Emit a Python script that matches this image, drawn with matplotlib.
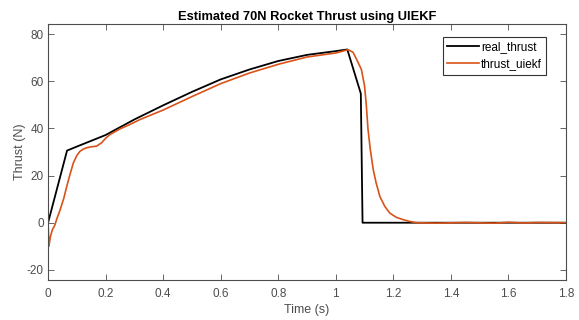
import matplotlib.pyplot as plt

plt.rcParams['font.family'] = ['Liberation Sans', 'DejaVu Sans']
plt.rcParams['axes.unicode_minus'] = False

# real thrust profile (knots of the piecewise curve)
t_real = [0, 0.066, 0.1, 0.2, 0.3, 0.4, 0.5, 0.6, 0.7, 0.8, 0.9, 1.0, 1.04, 1.087, 1.093, 1.8]
v_real = [0, 30.6, 32.3, 37.2, 43.8, 49.8, 55.5, 60.8, 65.0, 68.6, 71.2, 72.8, 73.5, 54.8, 0, 0]

# UIEKF estimate
t_est = [0, 0.003, 0.008, 0.015, 0.024, 0.03, 0.042, 0.055, 0.065, 0.076, 0.088, 0.1,
         0.111, 0.122, 0.134, 0.15, 0.169, 0.186, 0.2, 0.215, 0.25, 0.285, 0.32, 0.4,
         0.5, 0.6, 0.7, 0.8, 0.9, 1.0, 1.043, 1.06, 1.072, 1.089, 1.1, 1.106, 1.112,
         1.12, 1.13, 1.14, 1.153, 1.17, 1.1875, 1.21, 1.234, 1.255, 1.28, 1.35, 1.45,
         1.55, 1.6, 1.65, 1.7, 1.8]
v_est = [0, -10, -6, -3, -0.9, 1.5, 5.5, 10.5, 15.4, 20.4, 25.4, 28.5,
         30.3, 31.2, 31.8, 32.2, 32.5, 33.9, 35.8, 37.4, 39.8, 41.7, 43.8, 47.8,
         53.5, 59.0, 63.5, 67.2, 70.3, 72.0, 73.4, 72.3, 69.4, 65.0, 58.0, 50.0, 39.6,
         31.0, 22.6, 17.0, 11.2, 7.0, 4.1, 2.3, 1.3, 0.6, 0.0, -0.2, 0.1,
         -0.2, 0.2, -0.1, 0.1, 0]

x_ticks = [0, 0.2, 0.4, 0.6, 0.8, 1, 1.2, 1.4, 1.6, 1.8]
x_labels = ['0', '0.2', '0.4', '0.6', '0.8', '1', '1.2', '1.4', '1.6', '1.8']
y_ticks = [-20, 0, 20, 40, 60, 80]

gray = '#4d4d4d'

fig = plt.figure(figsize=(5.79, 3.2), dpi=100)
ax = fig.add_axes([0.083, 0.125, 0.8945, 0.8])

ax.plot(t_real, v_real, color='black', lw=1.3, label='real_thrust')
ax.plot(t_est, v_est, color='#D95319', lw=1.2, label='thrust_uiekf')

ax.set_xlim(0, 1.8)
ax.set_ylim(-24.3, 84.3)
ax.set_xticks(x_ticks)
ax.set_xticklabels(x_labels)
ax.set_yticks(y_ticks)
ax.tick_params(direction='in', top=True, right=True, length=4, width=0.6,
               colors=gray, labelsize=8.5, labelcolor=gray)
ax.tick_params(axis='x', pad=6)
ax.tick_params(axis='y', pad=3)
for s in ax.spines.values():
    s.set_color(gray)
    s.set_linewidth(0.8)

ax.set_xlabel('Time (s)', fontsize=9, color=gray, labelpad=3)
ax.set_ylabel('Thrust (N)', fontsize=9, color=gray, labelpad=1)
ax.set_title('Estimated 70N Rocket Thrust using UIEKF', fontsize=9.3,
             fontweight='bold', pad=3)

leg = ax.legend(loc='upper right', bbox_to_anchor=(0.961, 0.949), borderaxespad=0,
                fontsize=8.5, fancybox=False, framealpha=1, edgecolor='#333333',
                handlelength=2.7, handletextpad=0.15, borderpad=0.35,
                labelspacing=0.45)
leg.get_frame().set_linewidth(0.8)

fig.savefig('out.png', dpi=100)
